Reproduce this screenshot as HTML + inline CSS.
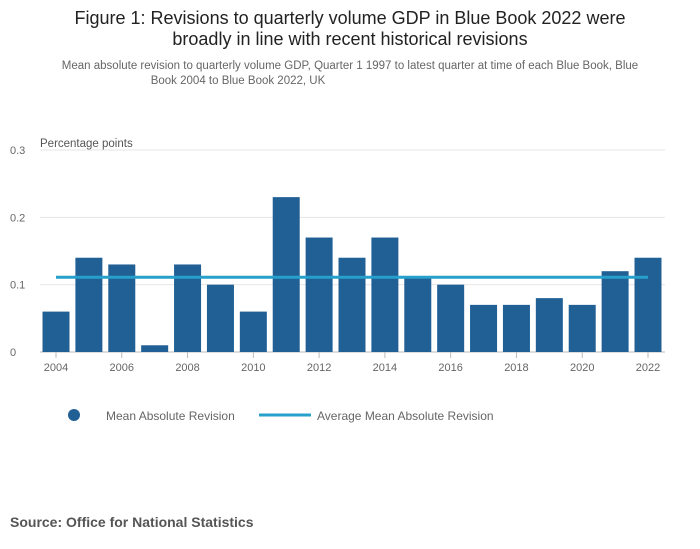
<!DOCTYPE html>
<html><head><meta charset="utf-8"><style>
body{margin:0;background:#fff;font-family:"Liberation Sans",sans-serif;}
#wrap{position:relative;width:700px;height:549px;overflow:hidden;}
</style></head><body>
<div id="wrap">
<svg id="svg" width="700" height="549" xmlns="http://www.w3.org/2000/svg" font-family="Liberation Sans, sans-serif">
<text x="350" y="24" text-anchor="middle" font-size="18" fill="#222">Figure 1: Revisions to quarterly volume GDP in Blue Book 2022 were</text>
<text x="350" y="45" text-anchor="middle" font-size="18" fill="#222">broadly in line with recent historical revisions</text>
<text x="350" y="69" text-anchor="middle" font-size="11.5" fill="#666">Mean absolute revision to quarterly volume GDP, Quarter 1 1997 to latest quarter at time of each Blue Book, Blue</text>
<text x="238" y="84" text-anchor="middle" font-size="11.5" fill="#666">Book 2004 to Blue Book 2022, UK</text>
<text x="40" y="147" font-size="11.5" fill="#555">Percentage points</text>
<g id="grid"></g><g id="bars"></g><g id="xt"></g>
<circle cx="74" cy="415" r="6" fill="#206095"/>
<text x="106" y="420" font-size="12" fill="#666">Mean Absolute Revision</text>
<line x1="259" y1="415" x2="311" y2="415" stroke="#27a0cc" stroke-width="3"/>
<text x="317" y="420" font-size="12" fill="#666">Average Mean Absolute Revision</text>
<text x="10" y="527" font-size="14" font-weight="bold" fill="#555">Source: Office for National Statistics</text>
</svg>
</div>
<script>
const years=[2004,2005,2006,2007,2008,2009,2010,2011,2012,2013,2014,2015,2016,2017,2018,2019,2020,2021,2022];
const values=[0.06,0.14,0.13,0.01,0.13,0.10,0.06,0.23,0.17,0.14,0.17,0.11,0.10,0.07,0.07,0.08,0.07,0.12,0.14];
const average=[0.111];
const yTicks=[0,0.1,0.2,0.3];
const yTickLabels=["0","0.1","0.2","0.3"];
const xTickYears=[2004,2006,2008,2010,2012,2014,2016,2018,2020,2022];
const NS="http://www.w3.org/2000/svg";
const y=v=>352-v*(202/0.3);
const x=yr=>56+(yr-2004)*(592/18);
const bw=27;
function mk(t,a,p){const e=document.createElementNS(NS,t);for(const k in a)e.setAttribute(k,a[k]);p.appendChild(e);return e;}
const grid=document.getElementById('grid'),bars=document.getElementById('bars'),xt=document.getElementById('xt');
yTicks.forEach((v,i)=>{
 const l=mk('line',{x1:40,x2:665,y1:y(v),y2:y(v),stroke:v===0?'#bbb':'#e6e6e6','stroke-width':1},grid);
 
 
 const t=mk('text',{x:10,y:y(v)+4,'font-size':11,fill:'#666'},grid);t.textContent=yTickLabels[i];
 
 
});
years.forEach((yr,i)=>{
 const r=mk('rect',{x:x(yr)-bw/2,y:y(values[i]),width:bw,height:y(0)-y(values[i]),fill:'#206095'},bars);
 
 
});
const avg=mk('line',{x1:x(years[0]),x2:x(years[years.length-1]),y1:y(average[0]),y2:y(average[0]),stroke:'#27a0cc','stroke-width':3},bars);


xTickYears.forEach(yr=>{
 const tk=mk('line',{x1:x(yr),x2:x(yr),y1:352,y2:358,stroke:'#bbb'},xt);
 
 
 const t=mk('text',{x:x(yr),y:371,'font-size':11,fill:'#666','text-anchor':'middle'},xt);t.textContent=yr;
 
 
});
</script>
</body></html>
